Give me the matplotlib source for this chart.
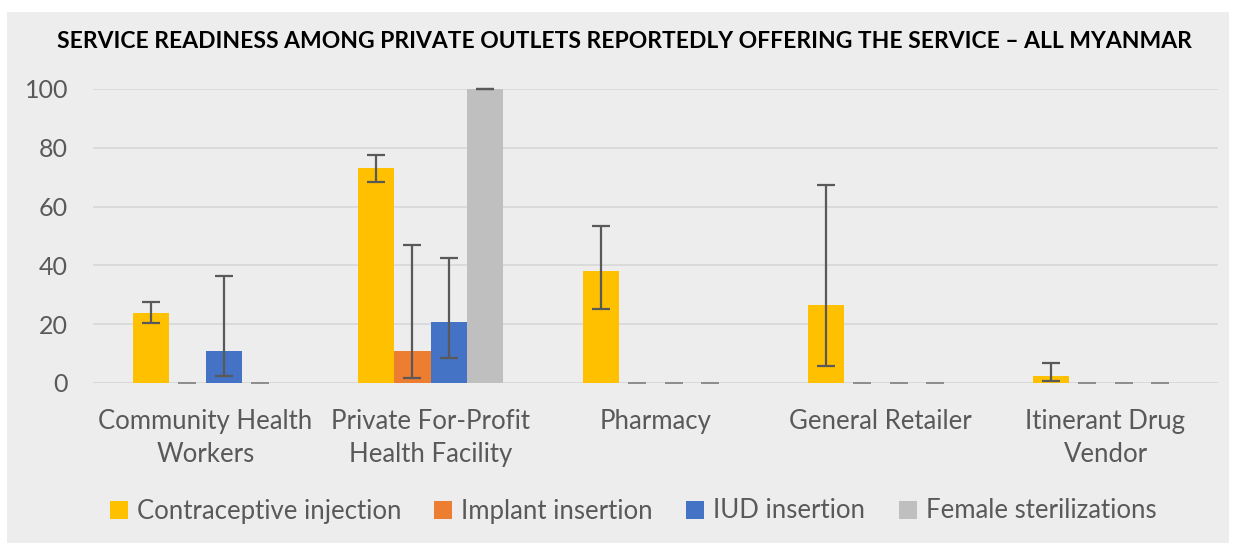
import matplotlib.pyplot as plt
import numpy as np
from matplotlib.patches import Rectangle

plt.rcParams['font.family'] = ['Lato', 'DejaVu Sans']

# data
categories = ["Community Health\nWorkers", "Private For-Profit\nHealth Facility",
              "Pharmacy", "General Retailer", "Itinerant Drug\nVendor"]
series = ["Contraceptive injection", "Implant insertion", "IUD insertion", "Female sterilizations"]
colors = ["#FFC000", "#ED7D31", "#4472C4", "#BFBFBF"]

injection = [23.7, 73.1, 38.2, 26.5, 2.4]
injection_lo = [20.3, 68.4, 25.2, 5.9, 0.8]
injection_hi = [27.4, 77.4, 53.5, 67.3, 6.7]

implant = [0, 10.8, 0, 0, 0]
implant_lo = [0, 1.6, 0, 0, 0]
implant_hi = [0, 46.9, 0, 0, 0]

iud = [10.8, 20.7, 0, 0, 0]
iud_lo = [2.5, 8.6, 0, 0, 0]
iud_hi = [36.5, 42.5, 0, 0, 0]

steril = [0, 100, 0, 0, 0]
steril_lo = [0, 100, 0, 0, 0]
steril_hi = [0, 100, 0, 0, 0]

values = [injection, implant, iud, steril]
lows = [injection_lo, implant_lo, iud_lo, steril_lo]
highs = [injection_hi, implant_hi, iud_hi, steril_hi]

bg = "#EDEDED"
fig = plt.figure(figsize=(12.35, 5.44), dpi=100)
fig.patch.set_facecolor("white")
fig.patches.append(Rectangle((7 / 1235, 1 / 544), 1222 / 1235, 531 / 544,
                             transform=fig.transFigure, facecolor=bg,
                             edgecolor="none", zorder=-10))

ax = fig.add_axes([93 / 1235, (544 - 383) / 544, (1218 - 93) / 1235, (383 - 89) / 544])
ax.set_facecolor(bg)

x = np.arange(len(categories))
w = 0.161
for i in range(4):
    pos = x + (i - 1.5) * w
    v = np.array(values[i])
    lo = v - np.array(lows[i])
    hi = np.array(highs[i]) - v
    ax.bar(pos, v, w, color=colors[i], label=series[i], zorder=2)
    # zero bars only show a faint cap in the original
    nz = np.array(highs[i]) > 0
    if nz.any():
        ax.errorbar(pos[nz], v[nz], yerr=[lo[nz], hi[nz]], fmt="none", ecolor="#595959",
                    elinewidth=1.6, capsize=6.5, capthick=1.6, zorder=3, clip_on=False)
    if (~nz).any():
        ax.errorbar(pos[~nz], v[~nz], yerr=[lo[~nz], hi[~nz]], fmt="none", ecolor="#8C8C8C",
                    elinewidth=1.2, capsize=6.5, capthick=1.2, zorder=3, clip_on=False)

ax.set_xlim(-0.5, 4.5)
ax.set_ylim(0, 100)
ax.set_yticks([0, 20, 40, 60, 80, 100])
ax.yaxis.grid(True, color="#D9D9D9", linewidth=1.3, zorder=0)
ax.set_axisbelow(True)
for s in ax.spines.values():
    s.set_visible(False)
ax.axhline(0, color="#D9D9D9", linewidth=1.3, zorder=1)

ax.set_xticks(x)
ax.set_xticklabels(categories, fontsize=18.5, color="#595959", linespacing=1.4)
ax.tick_params(axis="x", length=0, pad=19)
ax.tick_params(axis="y", length=0, pad=18, labelsize=18, labelcolor="#595959")

fig.suptitle("SERVICE READINESS AMONG PRIVATE OUTLETS REPORTEDLY OFFERING THE SERVICE \u2013 ALL MYANMAR",
             x=624 / 1235, y=1 - 42 / 544, va="center", fontsize=16.5, fontweight="bold", color="black")

leg = fig.legend(loc="center", bbox_to_anchor=(633 / 1235, 1 - 511 / 544), ncol=4,
                 frameon=False, fontsize=18.5, handlelength=0.7, handleheight=0.7,
                 handletextpad=0.35, columnspacing=1.3, labelcolor="#595959")

fig.savefig("out.png", dpi=100, facecolor=fig.get_facecolor())
